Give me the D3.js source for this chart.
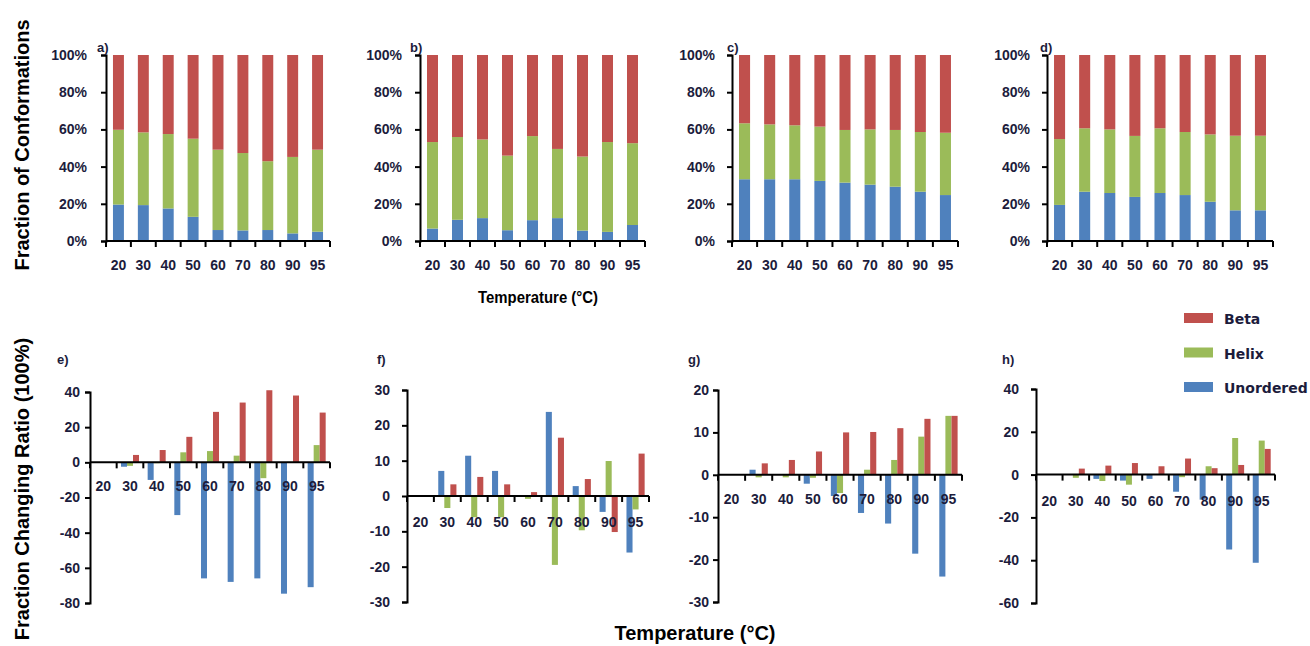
<!DOCTYPE html>
<html>
<head>
<meta charset="utf-8">
<script src="https://cdn.jsdelivr.net/npm/d3@7"></script>
<style>
  body { margin: 0; background: #fff; }
  svg { display: block; }
</style>
</head>
<body>
<div id="chart"></div>
<script>
// temperatures (°C)
const temps = ["20", "30", "40", "50", "60", "70", "80", "90", "95"];
const seriesNames = ["Unordered", "Helix", "Beta"];
const colors = {Unordered: "#4f81bd", Helix: "#9bbb59", Beta: "#c0504d"};

// top row: fraction of conformations (%)
const unorderedA = [19.6, 19.3, 17.5, 13.0, 5.9, 5.7, 5.9, 4.1, 5.0];
const helixA     = [40.2, 39.1, 40.0, 42.0, 43.2, 41.6, 37.0, 41.1, 44.1];
const betaA      = [40.2, 41.6, 42.5, 45.0, 50.9, 52.7, 57.1, 54.8, 50.9];

const unorderedB = [6.7, 11.4, 12.3, 5.8, 11.2, 12.3, 5.6, 4.9, 8.6];
const helixB     = [46.5, 44.5, 42.3, 40.1, 45.2, 37.2, 39.8, 48.3, 44.0];
const betaB      = [46.8, 44.1, 45.4, 54.1, 43.6, 50.5, 54.6, 46.8, 47.4];

const unorderedC = [33.2, 33.2, 33.2, 32.3, 31.4, 30.3, 29.2, 26.5, 24.7];
const helixC     = [30.1, 29.5, 29.0, 29.2, 28.3, 29.7, 30.5, 32.1, 33.5];
const betaC      = [36.7, 37.3, 37.8, 38.5, 40.3, 40.0, 40.3, 41.4, 41.8];

const unorderedD = [19.4, 26.5, 25.8, 23.7, 25.8, 24.7, 21.1, 16.5, 16.5];
const helixD     = [35.4, 34.1, 34.2, 32.8, 34.8, 33.9, 36.2, 40.1, 40.1];
const betaD      = [45.2, 39.4, 40.0, 43.5, 39.4, 41.4, 42.7, 43.4, 43.4];

// bottom row: fraction changing ratio (%)
const unorderedE = [0, -2.5, -10, -30, -66, -68, -66, -74.7, -71];
const helixE     = [0, -2, -0.5, 5.7, 6.4, 3.8, -9, 0.3, 9.8];
const betaE      = [0, 4.2, 7, 14.5, 28.7, 34, 41, 38, 28.3];

const unorderedF = [0, 7.1, 11.4, 7.1, 0, 23.8, 2.8, -4.5, -16];
const helixF     = [0, -3.4, -6, -6, -0.8, -19.5, -9.7, 9.9, -3.8];
const betaF      = [0, 3.3, 5.4, 3.3, 1.1, 16.5, 4.8, -10.2, 12];

const unorderedG = [0, 1.2, 0, -2.1, -5, -9, -11.5, -18.6, -24];
const helixG     = [0, -0.6, -0.6, -0.7, -4.3, 1.2, 3.5, 9, 13.9];
const betaG      = [0, 2.7, 3.5, 5.5, 10, 10.1, 11, 13.2, 13.9];

const unorderedH = [0, 0, -2, -2.8, -2, -8, -11.7, -35, -41.2];
const helixH     = [0, -1.5, -3, -4.7, 0, -1.2, 3.9, 17.1, 15.9];
const betaH      = [0, 2.8, 4.2, 5.4, 3.9, 7.5, 3, 4.5, 12];

const pctTicks = [0, 20, 40, 60, 80, 100];
const ticksE = [40, 20, 0, -20, -40, -60, -80];
const ticksF = [30, 20, 10, 0, -10, -20, -30];
const ticksG = [20, 10, 0, -10, -20, -30];
const ticksH = [40, 20, 0, -20, -40, -60];

const labelColor = "#1c1c3c";
const tickFont = "'Liberation Sans', Arial, sans-serif";

const svg = d3.select("#chart").append("svg")
  .attr("width", 1310)
  .attr("height", 646);

const topPanels = [
  {label: "a)", lx: 97,  x0: 106,  x1: 330,  pad: 14, u: unorderedA, h: helixA, b: betaA},
  {label: "b)", lx: 410, x0: 420,  x1: 645,  pad: 13, u: unorderedB, h: helixB, b: betaB},
  {label: "c)", lx: 727, x0: 732,  x1: 958,  pad: 12, u: unorderedC, h: helixC, b: betaC},
  {label: "d)", lx: 1040, x0: 1047, x1: 1273, pad: 12, u: unorderedD, h: helixD, b: betaD}
];

const bottomPanels = [
  {label: "e)", lx: 57,  x0: 90,   x1: 330,  y0: 603, y1: 392, dom: [-80, 40], ticks: ticksE, pad: 5,  lab: 29, u: unorderedE, h: helixE, b: betaE},
  {label: "f)", lx: 377, x0: 407,  x1: 649,  y0: 602, y1: 390, dom: [-30, 30], ticks: ticksF, pad: 12, lab: 31, u: unorderedF, h: helixF, b: betaF},
  {label: "g)", lx: 688, x0: 718,  x1: 962,  y0: 602, y1: 390, dom: [-30, 20], ticks: ticksG, pad: 4,  lab: 29.5, u: unorderedG, h: helixG, b: betaG},
  {label: "h)", lx: 1002, x0: 1036, x1: 1275, y0: 603, y1: 389, dom: [-60, 40], ticks: ticksH, pad: 12, lab: 31, u: unorderedH, h: helixH, b: betaH}
];

function styleAxis(g) {
  g.select(".domain").attr("stroke", "#000").attr("stroke-width", 2);
  g.selectAll(".tick line").attr("stroke", "#000").attr("stroke-width", 2);
  g.selectAll(".tick text")
    .attr("fill", labelColor)
    .style("font-family", tickFont)
    .style("font-weight", "bold")
    .style("font-size", "14px");
}

// boundary ticks + labels for the category axis
function categoryAxis(g, x, yAxis, labelOffset) {
  const bounds = x.domain().map(d => x(d)).concat([x.range()[1]]);
  g.append("line")
    .attr("x1", x.range()[0]).attr("x2", x.range()[1])
    .attr("y1", yAxis).attr("y2", yAxis)
    .attr("stroke", "#000").attr("stroke-width", 2);
  g.selectAll(".btick").data(bounds).join("line")
    .attr("x1", d => d).attr("x2", d => d)
    .attr("y1", yAxis).attr("y2", yAxis + 6)
    .attr("stroke", "#000").attr("stroke-width", 2);
  g.selectAll(".clabel").data(x.domain()).join("text")
    .attr("x", d => x(d) + x.bandwidth() / 2)
    .attr("y", yAxis + labelOffset)
    .attr("text-anchor", "middle")
    .attr("fill", labelColor)
    .style("font-family", tickFont)
    .style("font-weight", "bold")
    .style("font-size", "14px")
    .text(d => d);
}

function panelLabel(text, x, y) {
  svg.append("text")
    .attr("x", x).attr("y", y)
    .attr("fill", labelColor)
    .style("font-family", tickFont)
    .style("font-weight", "bold")
    .style("font-size", "13px")
    .text(text);
}

// ---- top row: stacked bars
topPanels.forEach(p => {
  const g = svg.append("g");
  const x = d3.scaleBand().domain(temps).range([p.x0, p.x1]).padding(0);
  const y = d3.scaleLinear().domain([0, 100]).range([241, 55]);

  const rows = temps.map((t, i) => ({t: t, Unordered: p.u[i], Helix: p.h[i], Beta: p.b[i]}));
  const stack = d3.stack().keys(seriesNames)(rows);
  const bw = x.bandwidth() * 0.44;

  g.selectAll(".layer").data(stack).join("g")
    .attr("fill", d => colors[d.key])
    .selectAll("rect").data(d => d).join("rect")
      .attr("x", d => x(d.data.t) + (x.bandwidth() - bw) / 2)
      .attr("width", bw)
      .attr("y", d => y(d[1]))
      .attr("height", d => y(d[0]) - y(d[1]));

  g.append("g")
    .attr("transform", `translate(${p.x0},0)`)
    .call(d3.axisLeft(y).tickValues(pctTicks).tickSize(5).tickPadding(p.pad)
      .tickFormat(d => d + "%"))
    .call(styleAxis);

  categoryAxis(g, x, 241, 29);
  panelLabel(p.label, p.lx, 52);
});

// ---- bottom row: grouped bars
bottomPanels.forEach(p => {
  const g = svg.append("g");
  const x = d3.scaleBand().domain(temps).range([p.x0, p.x1]).padding(0);
  const xs = d3.scaleBand().domain(seriesNames).range([0, x.bandwidth()])
    .paddingInner(0).paddingOuter(0.72);
  const y = d3.scaleLinear().domain(p.dom).range([p.y0, p.y1]);

  const vals = {Unordered: p.u, Helix: p.h, Beta: p.b};
  const bars = [];
  temps.forEach((t, i) => seriesNames.forEach(s => bars.push({t: t, s: s, v: vals[s][i]})));

  g.selectAll("rect").data(bars).join("rect")
    .attr("fill", d => colors[d.s])
    .attr("x", d => x(d.t) + xs(d.s))
    .attr("width", xs.bandwidth())
    .attr("y", d => y(Math.max(0, d.v)))
    .attr("height", d => Math.abs(y(d.v) - y(0)));

  g.append("g")
    .attr("transform", `translate(${p.x0},0)`)
    .call(d3.axisLeft(y).tickValues(p.ticks).tickSize(5).tickPadding(p.pad)
      .tickFormat(d => String(d)))
    .call(styleAxis);

  categoryAxis(g, x, y(0), p.lab);
  panelLabel(p.label, p.lx, 364);
});

// ---- axis titles
svg.append("text")
  .attr("transform", "translate(29,145)rotate(-90)")
  .attr("text-anchor", "middle")
  .style("font-family", tickFont)
  .style("font-weight", "bold")
  .style("font-size", "20px")
  .text("Fraction of Conformations");

svg.append("text")
  .attr("transform", "translate(29,489)rotate(-90)")
  .attr("text-anchor", "middle")
  .style("font-family", tickFont)
  .style("font-weight", "bold")
  .style("font-size", "20px")
  .text("Fraction Changing Ratio (100%)");

svg.append("text")
  .attr("x", 478).attr("y", 303)
  .attr("textLength", 120)
  .attr("lengthAdjust", "spacingAndGlyphs")
  .style("font-family", tickFont)
  .style("font-weight", "bold")
  .style("font-size", "16px")
  .text("Temperature (°C)");

svg.append("text")
  .attr("x", 695).attr("y", 640)
  .attr("text-anchor", "middle")
  .style("font-family", tickFont)
  .style("font-weight", "bold")
  .style("font-size", "20px")
  .text("Temperature (°C)");

// ---- legend
const legendOrder = ["Beta", "Helix", "Unordered"];
const legend = svg.append("g").attr("transform", "translate(1184,313)");
const ly = d3.scalePoint().domain(legendOrder).range([0, 69]);
legend.selectAll("rect").data(legendOrder).join("rect")
  .attr("x", 0).attr("y", d => ly(d))
  .attr("width", 29).attr("height", 10)
  .attr("fill", d => colors[d]);
legend.selectAll("text").data(legendOrder).join("text")
  .attr("x", 40).attr("y", d => ly(d) + 11)
  .attr("fill", labelColor)
  .style("font-family", "'DejaVu Sans', sans-serif")
  .style("font-weight", "bold")
  .style("font-size", "14px")
  .text(d => d);
</script>
</body>
</html>
